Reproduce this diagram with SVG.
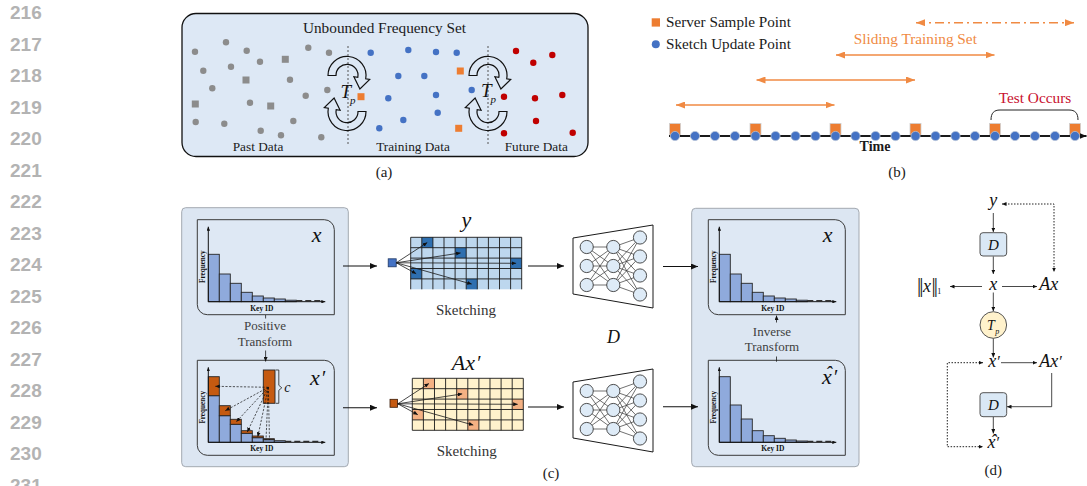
<svg xmlns="http://www.w3.org/2000/svg" width="1087" height="486" viewBox="0 0 1087 486">
<defs>
<style>
.serif{font-family:"Liberation Serif","Times New Roman",serif;fill:#1a1a1a;}
.it{font-family:"Liberation Serif","DejaVu Serif",serif;font-style:italic;fill:#111;}
.ln{font-family:"Liberation Sans",Arial,sans-serif;font-weight:bold;font-size:19px;fill:#b3b3b3;}
.lbl{font-family:"Liberation Serif","Times New Roman",serif;font-weight:bold;fill:#111;}
.panel{fill:#dce6f2;stroke:#a3a9b1;stroke-width:1;}
.inner{fill:#dee8f4;stroke:#3a3a3a;stroke-width:1;}
.bar{fill:#8faadc;stroke:#262626;stroke-width:0.9;}
.obar{fill:#c55a11;stroke:#262626;stroke-width:0.9;}
.ax{stroke:#111;stroke-width:1;fill:none;}
.conn{stroke:#111;stroke-width:1.1;fill:none;}
.thin{stroke:#1a1a1a;stroke-width:0.8;fill:none;}
.dash{stroke:#111;stroke-width:0.7;fill:none;stroke-dasharray:2.2 1.5;}
.dot{stroke:#222;stroke-width:1;fill:none;stroke-dasharray:1.5 1.5;}
.node{fill:#deebf7;stroke:#3a3a3a;stroke-width:0.9;}
.nnl{stroke:#333;stroke-width:0.7;fill:none;}
.oarr{stroke:#f08a43;stroke-width:1.6;fill:none;}
.gray{fill:#8c8c8c;} .blue{fill:#4472c4;} .red{fill:#c00000;} .orange{fill:#ed7d31;}
.cyc{fill:none;stroke:#111;stroke-width:1.2;}
.box{fill:#dae8f5;stroke:#555;stroke-width:1;}
</style>
<marker id="ah" viewBox="0 0 10 10" refX="10" refY="5" markerWidth="7" markerHeight="6" markerUnits="userSpaceOnUse" orient="auto-start-reverse" preserveAspectRatio="none"><path d="M0,0 L10,5 L0,10 Z" fill="#111"/></marker>
<marker id="ah-s" viewBox="0 0 10 10" refX="10" refY="5" markerWidth="4.5" markerHeight="4" markerUnits="userSpaceOnUse" orient="auto-start-reverse" preserveAspectRatio="none"><path d="M0,0 L10,5 L0,10 Z" fill="#111"/></marker>
<marker id="ah-t" viewBox="0 0 10 10" refX="10" refY="5" markerWidth="4" markerHeight="3.5" markerUnits="userSpaceOnUse" orient="auto-start-reverse" preserveAspectRatio="none"><path d="M0,0 L10,5 L0,10 Z" fill="#111"/></marker>
<marker id="ah-o" viewBox="0 0 10 10" refX="10" refY="5" markerWidth="9" markerHeight="7" markerUnits="userSpaceOnUse" orient="auto-start-reverse" preserveAspectRatio="none"><path d="M0,0 L10,5 L0,10 Z" fill="#f08a43"/></marker>

<!-- histogram frame, local origin at the axis corner -->
<path id="frame" class="inner" d="M-11,-82 H116 A10,10 0 0 1 126,-72 V13 H-1 A10,10 0 0 1 -11,3 Z"/>
<g id="axes">
  <path class="ax" d="M0,0 V-75" marker-end="url(#ah-t)"/>
  <path class="ax" d="M0,0 H117" marker-end="url(#ah-t)"/>
  <text class="lbl" font-size="7.5" x="53.5" y="9" text-anchor="middle">Key ID</text>
  <text class="lbl" font-size="7.2" text-anchor="middle" transform="translate(-3.2,-35) rotate(-90)">Frequency</text>
</g>
<g id="bars-a">
  <rect class="bar" x="0" y="-47.4" width="11" height="47.4"/>
  <rect class="bar" x="11" y="-27.7" width="11" height="27.7"/>
  <rect class="bar" x="22" y="-18.4" width="11" height="18.4"/>
  <rect class="bar" x="33" y="-9.4" width="11" height="9.4"/>
  <rect class="bar" x="44" y="-5.7" width="11" height="5.7"/>
  <rect class="bar" x="55" y="-3.7" width="11" height="3.7"/>
  <rect class="bar" x="66" y="-2.7" width="11" height="2.7"/>
  <rect class="bar" x="77" y="-1.5" width="11" height="1.5"/>
  <path d="M88,-1 H112" stroke="#333" stroke-width="1.2" stroke-dasharray="6 3"/>
</g>
<!-- curved block arrow used around the T_p operator -->
<path id="cyc-up" class="cyc" d="M328,75.5 A19,19 0 1 1 365.7,78.8 L369.7,79.5 L359.9,88.9 L353.9,76.7 L357.8,77.4 A11,11 0 1 0 336,75.5 Z"/>
<path id="grid-lines" d="M0,0V52 M11.1,0V52 M22.2,0V52 M33.3,0V52 M44.4,0V52 M55.5,0V52 M66.6,0V52 M77.7,0V52 M88.8,0V52 M99.9,0V52 M111,0V52 M0,0H111 M0,10.4H111 M0,20.8H111 M0,31.2H111 M0,41.6H111" stroke="#1a1a1a" stroke-width="0.9" fill="none"/>
<g id="grid-arrows">
  <path class="thin" d="M-14.5,25.5 L16.6,5.2" marker-end="url(#ah-s)"/>
  <path class="thin" d="M-14.5,25.5 L49.9,15.6" marker-end="url(#ah-s)"/>
  <path class="thin" d="M-14.5,25.5 L105.4,26" marker-end="url(#ah-s)"/>
  <path class="thin" d="M-14.5,25.5 L5.5,36.4" marker-end="url(#ah-s)"/>
  <path class="thin" d="M-14.5,25.5 L61,46.8" marker-end="url(#ah-s)"/>
</g>
<g id="nn">
  <polygon points="573,238 653,225 653,308 573,294" fill="#fff" stroke="#1a1a1a" stroke-width="1"/>
  <path class="nnl" d="M586.7,247L613.3,247 M586.7,247L613.3,266 M586.7,247L613.3,285 M586.7,266L613.3,247 M586.7,266L613.3,266 M586.7,266L613.3,285 M586.7,285L613.3,247 M586.7,285L613.3,266 M586.7,285L613.3,285 M613.3,247L640,237.5 M613.3,247L640,256.5 M613.3,247L640,275.5 M613.3,247L640,294.5 M613.3,266L640,237.5 M613.3,266L640,256.5 M613.3,266L640,275.5 M613.3,266L640,294.5 M613.3,285L640,237.5 M613.3,285L640,256.5 M613.3,285L640,275.5 M613.3,285L640,294.5"/>
  <circle class="node" cx="586.7" cy="247" r="6.6"/><circle class="node" cx="586.7" cy="266" r="6.6"/><circle class="node" cx="586.7" cy="285" r="6.6"/>
  <circle class="node" cx="613.3" cy="247" r="6.6"/><circle class="node" cx="613.3" cy="266" r="6.6"/><circle class="node" cx="613.3" cy="285" r="6.6"/>
  <circle class="node" cx="640" cy="237.5" r="6.6"/><circle class="node" cx="640" cy="256.5" r="6.6"/><circle class="node" cx="640" cy="275.5" r="6.6"/><circle class="node" cx="640" cy="294.5" r="6.6"/>
</g>
</defs>

<rect width="1087" height="486" fill="#fff"/>

<!-- margin line numbers -->
<g id="line-numbers" class="ln">
  <text x="10" y="19">216</text><text x="10" y="50.5">217</text><text x="10" y="82">218</text><text x="10" y="113.5">219</text>
  <text x="10" y="145">220</text><text x="10" y="176.5">221</text><text x="10" y="208">222</text><text x="10" y="239.5">223</text>
  <text x="10" y="271">224</text><text x="10" y="302.5">225</text><text x="10" y="334">226</text><text x="10" y="365.5">227</text>
  <text x="10" y="397">228</text><text x="10" y="428.5">229</text><text x="10" y="460">230</text><text x="10" y="491.5">231</text>
</g>

<!-- (a) unbounded frequency set -->
<g id="panel-a">
  <rect x="182" y="13.5" width="406" height="143" rx="14" fill="#dde8f5" stroke="#111" stroke-width="1.3"/>
  <text class="serif" x="384.5" y="32.5" font-size="15.3" text-anchor="middle">Unbounded Frequency Set</text>
  <path d="M348,46V144 M488,46V144" stroke="#555" stroke-width="1" stroke-dasharray="2 2"/>
  <g class="gray">
    <circle cx="195" cy="51.7" r="3.2"/><circle cx="226" cy="42.3" r="3.2"/><circle cx="246.7" cy="50.7" r="3.2"/><circle cx="260" cy="61.7" r="3.2"/>
    <circle cx="231" cy="66.7" r="3.2"/><circle cx="203.3" cy="70.7" r="3.2"/><circle cx="212.3" cy="88.3" r="3.2"/><circle cx="290" cy="79.7" r="3.2"/>
    <circle cx="308.3" cy="47.7" r="3.2"/><circle cx="329" cy="52.7" r="3.2"/><circle cx="305.7" cy="95.7" r="3.2"/><circle cx="327.3" cy="90" r="3.2"/>
    <circle cx="250" cy="102.7" r="3.2"/><circle cx="195.7" cy="122" r="3.2"/><circle cx="224.3" cy="123.7" r="3.2"/><circle cx="260.7" cy="130.7" r="3.2"/>
    <circle cx="281" cy="135.3" r="3.2"/><circle cx="293.3" cy="121" r="3.2"/><circle cx="321.3" cy="137.3" r="3.2"/>
    <rect x="281.8" y="55.8" width="7" height="7"/><rect x="242.5" y="76.5" width="7" height="7"/><rect x="191.8" y="100.5" width="7" height="7"/><rect x="267.2" y="102.5" width="7" height="7"/>
  </g>
  <g class="blue">
    <circle cx="370.7" cy="52.7" r="3.2"/><circle cx="408.3" cy="50" r="3.2"/><circle cx="436" cy="52" r="3.2"/><circle cx="456.7" cy="52.7" r="3.2"/>
    <circle cx="398.3" cy="76" r="3.2"/><circle cx="424.3" cy="76" r="3.2"/><circle cx="388.3" cy="98.3" r="3.2"/><circle cx="436" cy="95" r="3.2"/>
    <circle cx="437.7" cy="112.7" r="3.2"/><circle cx="403.3" cy="120" r="3.2"/><circle cx="379.3" cy="128.3" r="3.2"/><circle cx="471.7" cy="90" r="3.2"/>
  </g>
  <g class="orange">
    <rect x="357.5" y="93.2" width="7" height="7"/><rect x="456.8" y="67.5" width="7" height="7"/><rect x="455.2" y="124.8" width="7" height="7"/>
  </g>
  <g class="red">
    <circle cx="516" cy="51" r="3.2"/><circle cx="533.3" cy="62.7" r="3.2"/><circle cx="552.3" cy="55" r="3.2"/><circle cx="504" cy="96.7" r="3.2"/>
    <circle cx="535" cy="98.3" r="3.2"/><circle cx="562.3" cy="95" r="3.2"/><circle cx="536" cy="121" r="3.2"/><circle cx="504" cy="133.3" r="3.2"/>
    <circle cx="572.7" cy="132.7" r="3.2"/>
  </g>
  <g id="tp-1">
    <use href="#cyc-up"/>
    <use href="#cyc-up" transform="rotate(180 347 93.5)"/>
    <text class="it" x="340.5" y="98" font-size="19">T</text>
    <text class="it" x="350" y="103.5" font-size="11">p</text>
  </g>
  <g id="tp-2">
    <use href="#cyc-up" transform="translate(141,0)"/>
    <use href="#cyc-up" transform="translate(141,0) rotate(180 347 93.5)"/>
    <text class="it" x="481" y="97" font-size="19">T</text>
    <text class="it" x="490.5" y="102.5" font-size="11">p</text>
  </g>
  <text class="serif" x="258" y="150.5" font-size="13.3" text-anchor="middle">Past Data</text>
  <text class="serif" x="413" y="150.5" font-size="13.3" text-anchor="middle">Training Data</text>
  <text class="serif" x="536.3" y="150.5" font-size="13.3" text-anchor="middle">Future Data</text>
  <text class="serif" x="384" y="177" font-size="15" text-anchor="middle">(a)</text>
</g>

<!-- (b) sliding training set on the time axis -->
<g id="panel-b">
  <g id="legend">
    <rect class="orange" x="651.7" y="18.3" width="8.3" height="8.3"/>
    <text class="serif" x="666" y="27" font-size="15.2">Server Sample Point</text>
    <circle class="blue" cx="655.8" cy="44.3" r="4"/>
    <text class="serif" x="666" y="48.5" font-size="15.2">Sketch Update Point</text>
  </g>
  <g id="windows">
    <path class="oarr" d="M916,22.7 H1074" stroke-dasharray="9 4 2 4" marker-start="url(#ah-o)" marker-end="url(#ah-o)"/>
    <text x="915.3" y="44.3" font-size="15.3" text-anchor="middle" font-family="Liberation Serif, serif" fill="#f08a43">Sliding Training Set</text>
    <path class="oarr" d="M836,55 H994.5" marker-start="url(#ah-o)" marker-end="url(#ah-o)"/>
    <path class="oarr" d="M756.5,80 H915" marker-start="url(#ah-o)" marker-end="url(#ah-o)"/>
    <path class="oarr" d="M676,105 H834.5" marker-start="url(#ah-o)" marker-end="url(#ah-o)"/>
  </g>
  <text x="1035" y="102.7" font-size="15.3" text-anchor="middle" font-family="Liberation Serif, serif" fill="#c8102e">Test Occurs</text>
  <path d="M991,120 C991,113 994,110 1000,110 H1069 C1075,110 1078,113 1078,120" fill="none" stroke="#222" stroke-width="1"/>
  <g id="timeline">
    <g class="orange" stroke="#cfcfcf" stroke-width="0.8">
      <rect x="669.5" y="123.5" width="11" height="12.5"/><rect x="750" y="123.5" width="11" height="12.5"/>
      <rect x="830" y="123.5" width="11" height="12.5"/><rect x="910" y="123.5" width="11" height="12.5"/>
      <rect x="989.5" y="123.5" width="11" height="12.5"/><rect x="1069.5" y="123.5" width="11" height="12.5"/>
    </g>
    <line x1="669" y1="136" x2="1086.5" y2="136" stroke="#1a1a1a" stroke-width="2" marker-end="url(#ah)"/>
    <g class="blue" stroke="#b3c0d6" stroke-width="0.8">
      <circle cx="675" cy="136" r="4.6"/><circle cx="695" cy="136" r="4.6"/><circle cx="715" cy="136" r="4.6"/><circle cx="735" cy="136" r="4.6"/>
      <circle cx="755.5" cy="136" r="4.6"/><circle cx="775.5" cy="136" r="4.6"/><circle cx="795.5" cy="136" r="4.6"/><circle cx="815.5" cy="136" r="4.6"/>
      <circle cx="835.5" cy="136" r="4.6"/><circle cx="855.5" cy="136" r="4.6"/><circle cx="875.5" cy="136" r="4.6"/><circle cx="895.5" cy="136" r="4.6"/>
      <circle cx="915.5" cy="136" r="4.6"/><circle cx="935.5" cy="136" r="4.6"/><circle cx="955.5" cy="136" r="4.6"/><circle cx="975" cy="136" r="4.6"/>
      <circle cx="995" cy="136" r="4.6"/><circle cx="1015" cy="136" r="4.6"/><circle cx="1035" cy="136" r="4.6"/><circle cx="1055" cy="136" r="4.6"/>
      <circle cx="1075" cy="136" r="4.6"/>
    </g>
    <text class="serif" x="875" y="150.7" font-size="14" font-weight="bold" text-anchor="middle">Time</text>
  </g>
  <text class="serif" x="897" y="177" font-size="15" text-anchor="middle">(b)</text>
</g>

<!-- (c) training pipeline -->
<g id="panel-c">
  <g id="c-input">
    <rect class="panel" x="181.7" y="207.7" width="166.6" height="259" rx="4"/>
    <g id="hist-x" transform="translate(208.3,301.7)">
      <use href="#frame"/>
      <use href="#bars-a"/>
      <use href="#axes"/>
      <text class="it" x="103.4" y="-60" font-size="22">x</text>
    </g>
    <text x="265" y="330" font-size="13" text-anchor="middle" font-family="Liberation Serif, serif" fill="#404040">Positive</text>
    <text x="265" y="345.7" font-size="13" text-anchor="middle" font-family="Liberation Serif, serif" fill="#404040">Transform</text>
    <g id="hist-xp" transform="translate(208.3,442.3)">
      <use href="#frame"/>
      <rect class="bar" x="0" y="-46.6" width="11" height="46.6"/><rect class="obar" x="0" y="-65.6" width="11" height="19"/>
      <rect class="bar" x="11" y="-26.6" width="11" height="26.6"/><rect class="obar" x="11" y="-36.6" width="11" height="10"/>
      <rect class="bar" x="22" y="-18" width="11" height="18"/><rect class="obar" x="22" y="-23" width="11" height="5"/>
      <rect class="bar" x="33" y="-9" width="11" height="9"/><rect class="obar" x="33" y="-11.6" width="11" height="2.6"/>
      <rect class="bar" x="44" y="-4.6" width="11" height="4.6"/><rect class="obar" x="44" y="-6.3" width="11" height="1.7"/>
      <rect class="bar" x="55" y="-2.6" width="11" height="2.6"/><rect class="obar" x="55" y="-3.6" width="11" height="1"/>
      <rect class="bar" x="66" y="-1.6" width="11" height="1.6"/>
      <path d="M77,-1 H112" stroke="#333" stroke-width="1.2" stroke-dasharray="6 3"/>
      <rect class="obar" x="55" y="-72.3" width="11.7" height="33.3"/>
      <path d="M67.5,-72.3 H70.5 V-57 L73.5,-54.5 L70.5,-52 V-39 H67.5" fill="none" stroke="#222" stroke-width="0.8"/>
      <text class="it" x="76" y="-50.5" font-size="14">c</text>
      <g>
        <path class="dash" d="M60,-55 L7,-56" marker-end="url(#ah-s)"/>
        <path class="dash" d="M60,-55 L17,-31.6" marker-end="url(#ah-s)"/>
        <path class="dash" d="M60,-55 L28,-20.5" marker-end="url(#ah-s)"/>
        <path class="dash" d="M60,-55 L39,-10.3" marker-end="url(#ah-s)"/>
        <path class="dash" d="M60,-55 L49.5,-5.5" marker-end="url(#ah-s)"/>
        <path class="dash" d="M60,-55 L57.7,-2.5"/>
        <path class="dash" d="M60,-55 L61.2,-2.3"/>
      </g>
      <use href="#axes"/>
      <text class="it" x="101.7" y="-57.3" font-size="22">x<tspan dx="1" font-size="20">′</tspan></text>
    </g>
    <path class="thin" d="M265.6,315 V318.5"/>
    <path class="thin" d="M265.6,350.5 V361.5" marker-end="url(#ah-s)"/>
  </g>

  <g id="c-sketch-y">
    <text class="it" x="466.5" y="227" font-size="22" text-anchor="middle">y</text>
    <g transform="translate(410.7,237.3)">
      <rect x="0" y="0" width="111" height="52" fill="#bdd7ee"/>
      <g fill="#2e6fb0">
        <rect x="11.1" y="0" width="11.1" height="10.4"/><rect x="44.4" y="10.4" width="11.1" height="10.4"/>
        <rect x="99.9" y="20.8" width="11.1" height="10.4"/><rect x="0" y="31.2" width="11.1" height="10.4"/>
        <rect x="55.5" y="41.6" width="11.1" height="10.4"/>
      </g>
      <use href="#grid-lines"/>
      <rect x="-22.5" y="21.5" width="8" height="8" fill="#4472c4" stroke="#1f3864" stroke-width="0.8"/>
      <use href="#grid-arrows"/>
    </g>
    <text x="466" y="315" font-size="15" text-anchor="middle" font-family="Liberation Serif, serif" fill="#333">Sketching</text>
  </g>

  <g id="c-sketch-ax">
    <text class="it" x="451.7" y="370" font-size="22">Ax<tspan dx="1" font-size="20">′</tspan></text>
    <g transform="translate(412.3,378.3)">
      <rect x="0" y="0" width="111" height="52" fill="#fff2cc"/>
      <g fill="#f4b183">
        <rect x="11.1" y="0" width="11.1" height="10.4"/><rect x="44.4" y="10.4" width="11.1" height="10.4"/>
        <rect x="99.9" y="20.8" width="11.1" height="10.4"/><rect x="0" y="31.2" width="11.1" height="10.4"/>
        <rect x="55.5" y="41.6" width="11.1" height="10.4"/>
      </g>
      <use href="#grid-lines"/>
      <path d="M0,52H111" stroke="#1a1a1a" stroke-width="0.9"/>
      <rect x="-22.3" y="21" width="7.6" height="8" fill="#c55a11" stroke="#3a1a05" stroke-width="0.8"/>
      <use href="#grid-arrows"/>
    </g>
    <text x="466.7" y="455.7" font-size="15" text-anchor="middle" font-family="Liberation Serif, serif" fill="#333">Sketching</text>
  </g>

  <g id="c-decoder-1"><use href="#nn"/></g>
  <g id="c-decoder-2"><use href="#nn" transform="translate(0,144)"/></g>
  <text class="it" x="613.5" y="343.3" font-size="18" text-anchor="middle">D</text>

  <g id="c-output">
    <rect class="panel" x="691.7" y="208.3" width="167.3" height="258.4" rx="4"/>
    <g id="hist-out" transform="translate(719.3,301.7)">
      <use href="#frame"/>
      <use href="#bars-a"/>
      <use href="#axes"/>
      <text class="it" x="103.4" y="-60" font-size="22">x</text>
    </g>
    <text x="772" y="335.7" font-size="13" text-anchor="middle" font-family="Liberation Serif, serif" fill="#404040">Inverse</text>
    <text x="772" y="350.7" font-size="13" text-anchor="middle" font-family="Liberation Serif, serif" fill="#404040">Transform</text>
    <g id="hist-xhat" transform="translate(719.3,442.3)">
      <use href="#frame"/>
      <rect class="bar" x="0" y="-65.6" width="11" height="65.6"/>
      <rect class="bar" x="11" y="-37.3" width="11" height="37.3"/>
      <rect class="bar" x="22" y="-23.3" width="11" height="23.3"/>
      <rect class="bar" x="33" y="-11.6" width="11" height="11.6"/>
      <rect class="bar" x="44" y="-6.6" width="11" height="6.6"/>
      <rect class="bar" x="55" y="-4" width="11" height="4"/>
      <rect class="bar" x="66" y="-2.3" width="11" height="2.3"/>
      <rect class="bar" x="77" y="-1.3" width="11" height="1.3"/>
      <path d="M88,-1 H112" stroke="#333" stroke-width="1.2" stroke-dasharray="6 3"/>
      <use href="#axes"/>
      <text class="it" x="102.7" y="-58.3" font-size="22">x<tspan dx="-6.5" dy="-2.7" font-size="20">ˆ</tspan><tspan dx="0.8" dy="2.7" font-size="20">′</tspan></text>
    </g>
    <path class="thin" d="M776.5,322.5 V315.5" marker-end="url(#ah-s)"/>
    <path class="thin" d="M776.5,356.5 V361.7"/>
  </g>

  <g id="c-connectors">
    <path class="conn" d="M343,266 H377" marker-end="url(#ah)"/>
    <path class="conn" d="M343,407.7 H377" marker-end="url(#ah)"/>
    <path class="conn" d="M528,266 H564" marker-end="url(#ah)"/>
    <path class="conn" d="M528,407 H564" marker-end="url(#ah)"/>
    <path class="conn" d="M663,266.5 H698" marker-end="url(#ah)"/>
    <path class="conn" d="M663,406.7 H698" marker-end="url(#ah)"/>
  </g>
  <text class="serif" x="551" y="478" font-size="15" text-anchor="middle">(c)</text>
</g>

<!-- (d) computation graph -->
<g id="panel-d">
  <g id="d-y"><text class="it" x="993.3" y="206" font-size="18" text-anchor="middle">y</text></g>
  <g id="d-dec1"><rect class="box" x="980" y="232.7" width="26.7" height="23.3" rx="3"/><text class="it" x="993.3" y="249.5" font-size="15" text-anchor="middle">D</text></g>
  <g id="d-x"><text class="it" x="993.3" y="290" font-size="18" text-anchor="middle">x</text></g>
  <g id="d-norm"><text class="it" x="917" y="292" font-size="18"><tspan font-size="21" font-style="normal" letter-spacing="-2">||</tspan><tspan dx="1.5">x</tspan><tspan font-size="21" font-style="normal" letter-spacing="-2" dx="0.5">||</tspan><tspan font-size="8" font-style="normal" dy="2" dx="1.5">1</tspan></text></g>
  <g id="d-ax"><text class="it" x="1039.3" y="290" font-size="18">Ax</text></g>
  <g id="d-tp"><circle cx="993.3" cy="325" r="13.3" fill="#fff2cc" stroke="#555" stroke-width="1"/><text class="it" x="987" y="330" font-size="14">T</text><text class="it" x="995.3" y="333.5" font-size="8">p</text></g>
  <g id="d-xp"><text class="it" x="988.3" y="367" font-size="18">x<tspan font-size="16">′</tspan></text></g>
  <g id="d-axp"><text class="it" x="1039.3" y="367" font-size="18">Ax<tspan font-size="16">′</tspan></text></g>
  <g id="d-dec2"><rect class="box" x="980" y="392.7" width="26.7" height="24" rx="3"/><text class="it" x="993.3" y="410" font-size="15" text-anchor="middle">D</text></g>
  <g id="d-xhat"><text class="it" x="987.5" y="448.3" font-size="18">x<tspan dx="-5" dy="-1.3">ˆ</tspan><tspan dx="-1" dy="1.3" font-size="16">′</tspan></text></g>
  <g id="d-connectors">
    <path class="thin" d="M993.3,213 V232" marker-end="url(#ah-s)"/>
    <path class="thin" d="M993.3,256.5 V274" marker-end="url(#ah-s)"/>
    <path class="thin" d="M982,286.5 H950" marker-end="url(#ah-s)"/>
    <path class="thin" d="M1002,286.5 H1037" marker-end="url(#ah-s)"/>
    <path class="dot" d="M1002,204 H1054 V272" marker-start="url(#ah-s)" marker-end="url(#ah-s)"/>
    <path class="thin" d="M993.3,292.5 V311.2" marker-end="url(#ah-s)"/>
    <path class="thin" d="M993.3,338.5 V357.5" marker-end="url(#ah-s)"/>
    <path class="thin" d="M1001,362.7 H1037" marker-end="url(#ah-s)"/>
    <path class="thin" d="M1051.7,373 V406.7 H1007" marker-end="url(#ah-s)"/>
    <path class="thin" d="M993.3,417 V433.5" marker-end="url(#ah-s)"/>
    <path class="dot" d="M983,362.7 H947.3 V446.7 H983" marker-start="url(#ah-s)" marker-end="url(#ah-s)"/>
  </g>
  <text class="serif" x="993.3" y="475" font-size="15" text-anchor="middle">(d)</text>
</g>
</svg>
